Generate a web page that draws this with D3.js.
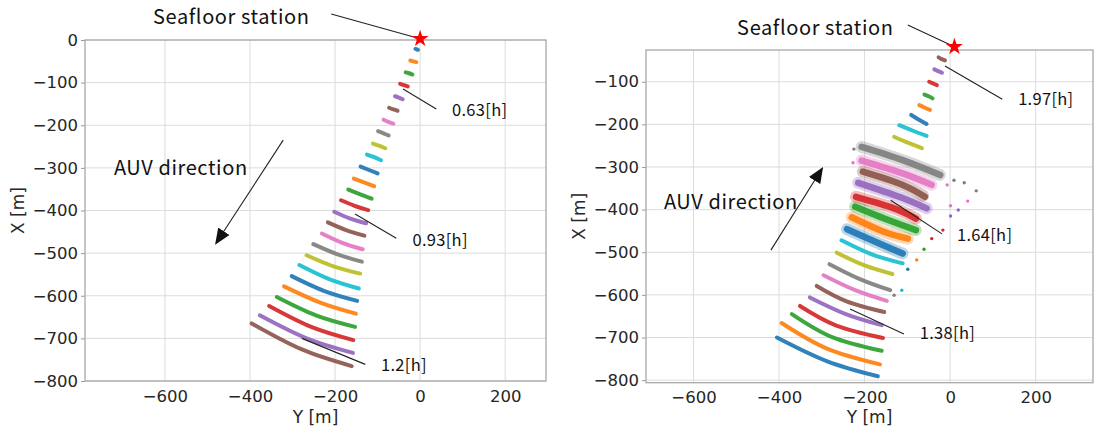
<!DOCTYPE html>
<html>
<head>
<meta charset="utf-8">
<script src="https://cdn.jsdelivr.net/npm/d3@7"></script>
<style>
  body { margin: 0; background: #fff; }
  svg { display: block; }
  .tick text { font-family: "DejaVu Sans", sans-serif; font-size: 16.5px; fill: #262626; }
  .axis-title { font-family: "DejaVu Sans", sans-serif; font-size: 17px; fill: #262626; }
  .note { font-family: "Noto Sans CJK JP", "Noto Sans", sans-serif; fill: #111; }
</style>
</head>
<body>
<script>
// tick values
const hTicks = [-600, -400, -200, 0, 200];
const vTicksLeft = [0, -100, -200, -300, -400, -500, -600, -700, -800];
const vTicksRight = [-100, -200, -300, -400, -500, -600, -700, -800];

// station positions [Y, X]
const stationLeft = [0, 3];
const stationRight = [10, -18];

// left run: arcs from the station outwards, each [left end, middle, right end] as [Y, X]
const leftArcs = [
  [[-11, -21], [-8, -22], [-5, -23]],
  [[-23, -48], [-16, -50], [-9, -52]],
  [[-34, -76], [-26, -78], [-18, -81]],
  [[-47, -103], [-38, -106], [-29, -109]],
  [[-59, -132], [-50, -135], [-41, -139]],
  [[-73, -159], [-63, -163], [-53, -166]],
  [[-86, -187], [-75, -192], [-63, -196]],
  [[-99, -214], [-86, -219], [-74, -224]],
  [[-111, -243], [-97, -248], [-82, -254]],
  [[-125, -269], [-108, -275], [-92, -282]],
  [[-140, -297], [-120, -305], [-100, -313]],
  [[-156, -325], [-132, -334], [-108, -343]],
  [[-169, -351], [-141, -362], [-114, -372]],
  [[-186, -376], [-154, -389], [-122, -399]],
  [[-202, -403], [-164, -419], [-127, -430]],
  [[-217, -428], [-174, -446], [-131, -459]],
  [[-231, -454], [-183, -476], [-135, -491]],
  [[-251, -479], [-194, -503], [-137, -520]],
  [[-267, -505], [-204, -531], [-141, -548]],
  [[-284, -528], [-214, -561], [-144, -583]],
  [[-302, -554], [-225, -589], [-148, -612]],
  [[-320, -578], [-235, -616], [-151, -642]],
  [[-337, -603], [-245, -646], [-153, -673]],
  [[-355, -624], [-256, -673], [-157, -704]],
  [[-377, -646], [-267, -700], [-158, -734]],
  [[-396, -665], [-278, -726], [-161, -765]]
];

// right run: arcs from the far end back to the station
const rightArcs = [
  [[-405, -700], [-287, -756], [-169, -791]],
  [[-394, -666], [-288, -726], [-164, -763]],
  [[-370, -645], [-276, -699], [-160, -731]],
  [[-351, -626], [-266, -672], [-157, -701]],
  [[-328, -606], [-244, -645], [-160, -671]],
  [[-312, -579], [-242, -615], [-154, -640]],
  [[-296, -554], [-222, -589], [-148, -614]],
  [[-282, -528], [-211, -563], [-140, -589]],
  [[-265, -501], [-200, -531], [-135, -551]],
  [[-254, -472], [-183, -505], [-111, -526]],
  [[-241, -446], [-167, -479], [-111, -503]],
  [[-230, -418], [-155, -452], [-99, -468]],
  [[-222, -393], [-143, -425], [-80, -448]],
  [[-220, -370], [-131, -397], [-80, -421]],
  [[-215, -337], [-119, -370], [-55, -397]],
  [[-204, -311], [-111, -342], [-59, -370]],
  [[-207, -285], [-111, -315], [-43, -342]],
  [[-207, -253], [-111, -284], [-23, -319]],
  [[-131, -229], [-99, -243], [-66, -256]],
  [[-119, -202], [-87, -215], [-55, -227]],
  [[-91, -178], [-73, -189], [-55, -199]],
  [[-72, -155], [-59, -161], [-47, -166]],
  [[-60, -130], [-50, -134], [-41, -139]],
  [[-49, -100], [-40, -104], [-31, -108]],
  [[-37, -71], [-28, -75], [-19, -79]],
  [[-27, -43], [-20, -47], [-12, -50]]
];
// arcs of the right run that are spread wide
const rightNoisy = [10, 11, 12, 13, 14, 15, 16, 17];

// stray fixes on the right run: [arc index, Y, X]
const rightStray = [
  [17, 33, -337], [17, 61, -356], [17, 9, -331], [17, -225, -258],
  [16, 41, -380], [16, 1, -391], [16, -7, -342], [16, -227, -290],
  [14, 19, -401], [14, 1, -415], [13, -17, -448], [13, -43, -468],
  [12, -61, -493], [11, -78, -518], [10, -99, -540], [9, -113, -589], [7, -131, -601]
];

// annotations: text anchored at [Y, X]; leader lines [[Y, X], [Y, X]]
const leftNotes = [
  { text: 'Seafloor station', at: [-628, 54], big: true },
  { text: 'AUV direction', at: [-720, -300], big: true },
  { text: '0.63[h]', at: [75, -164] },
  { text: '0.93[h]', at: [-18, -469] },
  { text: '1.2[h]', at: [-92, -763] }
];
const leftLeaders = [
  [[-209, 61], stationLeft],
  [[-40, -115], [38, -162]],
  [[-153, -408], [-56, -465]],
  [[-278, -700], [-129, -761]]
];
const leftArrow = [[-322, -235], [-480, -477]];

const rightNotes = [
  { text: 'Seafloor station', at: [-498, 26], big: true },
  { text: 'AUV direction', at: [-669, -382], big: true },
  { text: '1.97[h]', at: [159, -141] },
  { text: '1.64[h]', at: [16, -460] },
  { text: '1.38[h]', at: [-71, -690] }
];
const rightLeaders = [
  [[-99, 33], stationRight],
  [[-12, -63], [122, -141]],
  [[-139, -378], [-19, -457]],
  [[-234, -633], [-108, -692]]
];
const rightArrow = [[-419, -495], [-299, -303]];

const W = 1094, H = 429;
const svg = d3.select('body').append('svg').attr('width', W).attr('height', H);

const defs = svg.append('defs');
defs.append('marker')
  .attr('id', 'head')
  .attr('viewBox', '0 0 10 10')
  .attr('refX', 9).attr('refY', 5)
  .attr('markerWidth', 16).attr('markerHeight', 16)
  .attr('markerUnits', 'userSpaceOnUse')
  .attr('orient', 'auto')
  .append('path').attr('d', 'M0,0.8 L10,5 L0,9.2 Z').attr('fill', '#111');

const color = i => d3.schemeCategory10[i % 10];

function panel(opt) {
  const x = d3.scaleLinear().domain(opt.yDomain).range([opt.left, opt.right]);
  const y = d3.scaleLinear().domain(opt.xDomain).range([opt.top, opt.bottom]);
  const g = svg.append('g');
  const clipId = 'clip' + opt.id;
  defs.append('clipPath').attr('id', clipId)
    .append('rect').attr('x', opt.left).attr('y', opt.top - 12)
    .attr('width', opt.right - opt.left).attr('height', opt.bottom - opt.top + 12);

  // grid
  g.append('g').selectAll('line').data(opt.hTicks).join('line')
    .attr('x1', d => x(d)).attr('x2', d => x(d))
    .attr('y1', opt.top).attr('y2', opt.bottom)
    .attr('stroke', '#dcdcdc').attr('stroke-width', 1);
  g.append('g').selectAll('line').data(opt.vTicks).join('line')
    .attr('y1', d => y(d)).attr('y2', d => y(d))
    .attr('x1', opt.left).attr('x2', opt.right)
    .attr('stroke', '#dcdcdc').attr('stroke-width', 1);

  // axes
  const ax = g.append('g').attr('transform', `translate(0,${opt.bottom})`)
    .call(d3.axisBottom(x).tickValues(opt.hTicks).tickSize(0).tickPadding(9));
  const ay = g.append('g').attr('transform', `translate(${opt.left},0)`)
    .call(d3.axisLeft(y).tickValues(opt.vTicks).tickSize(4).tickPadding(3));
  [ax, ay].forEach(a => {
    a.select('.domain').remove();
    a.selectAll('.tick line').attr('stroke', '#999');
  });

  g.append('rect')
    .attr('x', opt.left).attr('y', opt.top)
    .attr('width', opt.right - opt.left).attr('height', opt.bottom - opt.top)
    .attr('fill', 'none').attr('stroke', '#a8a8a8').attr('stroke-width', 1.3);

  g.append('text').attr('class', 'axis-title')
    .attr('x', (opt.left + opt.right) / 2).attr('y', 423)
    .attr('text-anchor', 'middle').text('Y [m]');
  g.append('text').attr('class', 'axis-title')
    .attr('transform', `translate(${opt.left - 61},${(opt.top + opt.bottom) / 2}) rotate(-90)`)
    .attr('text-anchor', 'middle').text('X [m]');

  // fixes
  const line = d3.line().x(d => x(d[0])).y(d => y(d[1])).curve(d3.curveNatural);
  const plot = g.append('g').attr('clip-path', `url(#${clipId})`);
  opt.arcs.forEach((a, i) => {
    const noisy = opt.noisy.includes(i);
    if (noisy) {
      plot.append('path').attr('d', line(a))
        .attr('fill', 'none').attr('stroke', color(i))
        .attr('stroke-width', 12).attr('stroke-linecap', 'round')
        .attr('stroke-dasharray', '2 2.5')
        .attr('stroke-opacity', 0.3);
    }
    plot.append('path').attr('d', line(a))
      .attr('fill', 'none').attr('stroke', color(i))
      .attr('stroke-width', noisy ? 6.5 : 4).attr('stroke-linecap', 'round')
      .attr('stroke-opacity', 0.92);
  });
  plot.selectAll('circle.stray').data(opt.stray).join('circle')
    .attr('class', 'stray')
    .attr('cx', d => x(d[1])).attr('cy', d => y(d[2]))
    .attr('r', 1.7).attr('fill', d => color(d[0]));

  // leaders and arrow
  g.selectAll('line.leader').data(opt.leaders).join('line')
    .attr('class', 'leader')
    .attr('x1', d => x(d[0][0])).attr('y1', d => y(d[0][1]))
    .attr('x2', d => x(d[1][0])).attr('y2', d => y(d[1][1]))
    .attr('stroke', '#222').attr('stroke-width', 1.1);
  g.append('line')
    .attr('x1', x(opt.arrow[0][0])).attr('y1', y(opt.arrow[0][1]))
    .attr('x2', x(opt.arrow[1][0])).attr('y2', y(opt.arrow[1][1]))
    .attr('stroke', '#222').attr('stroke-width', 1.1)
    .attr('marker-end', 'url(#head)');

  // station star
  g.append('path')
    .attr('d', d3.symbol(d3.symbolStar, 90)())
    .attr('transform', `translate(${x(opt.station[0])},${y(opt.station[1])})`)
    .attr('fill', '#ff0000');

  g.selectAll('text.note').data(opt.notes).join('text')
    .attr('class', 'note')
    .attr('x', d => x(d.at[0])).attr('y', d => y(d.at[1]))
    .attr('dy', '0.35em')
    .attr('font-size', d => d.big ? 20 : 16.5)
    .attr('letter-spacing', d => d.big ? 0.6 : 0.3)
    .text(d => d.text);
}

panel({
  id: 'L', left: 85, right: 546, top: 40, bottom: 381,
  yDomain: [-788, 296], xDomain: [0, -800],
  hTicks: hTicks, vTicks: vTicksLeft,
  arcs: leftArcs, noisy: [], stray: [],
  leaders: leftLeaders, arrow: leftArrow, station: stationLeft, notes: leftNotes
});

panel({
  id: 'R', left: 646, right: 1093, top: 50, bottom: 382.7,
  yDomain: [-711, 334], xDomain: [-25.6, -806],
  hTicks: hTicks, vTicks: vTicksRight,
  arcs: rightArcs, noisy: rightNoisy, stray: rightStray,
  leaders: rightLeaders, arrow: rightArrow, station: stationRight, notes: rightNotes
});
</script>
</body>
</html>
